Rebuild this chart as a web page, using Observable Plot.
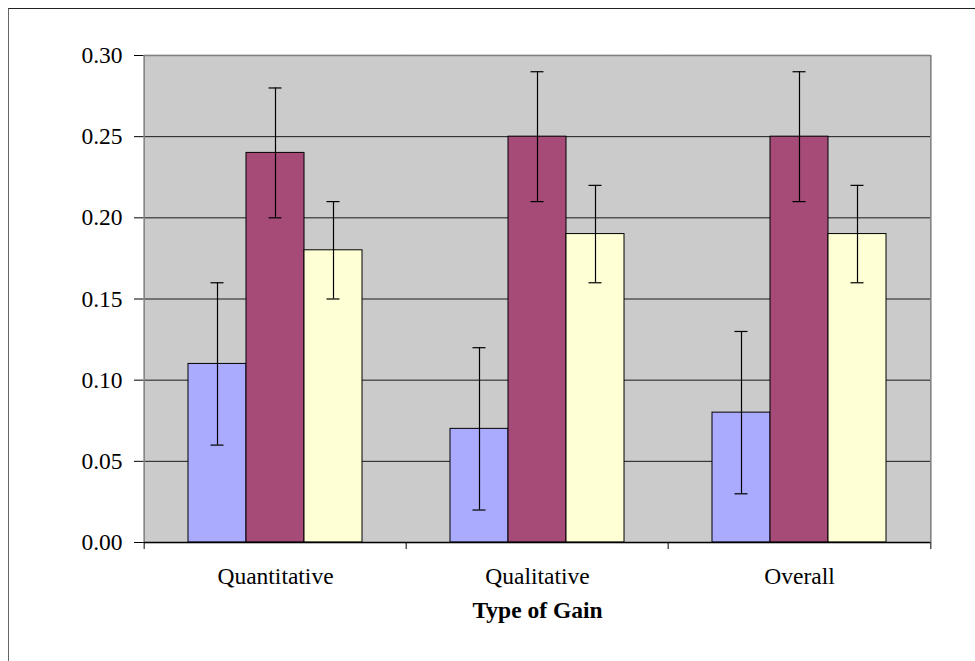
<!DOCTYPE html>
<html>
<head>
<meta charset="utf-8">
<script src="https://cdn.jsdelivr.net/npm/d3@7"></script>
<script src="https://cdn.jsdelivr.net/npm/@observablehq/plot@0.6"></script>
<style>
  body { margin: 0; background: #fff; }
  #wrap { position: relative; width: 975px; height: 661px; overflow: hidden; }
  #border { position: absolute; left: 8px; top: 8px; width: 2000px; height: 2000px;
            border-top: 1.5px solid #222; border-left: 1.5px solid #666; pointer-events: none; }
  #chart svg { display: block; }
</style>
</head>
<body>
<div id="wrap"><div id="chart"></div><div id="border"></div></div>
<script>
// ---- data ----
const categories = ["Quantitative", "Qualitative", "Overall"];
const series = ["Series 1", "Series 2", "Series 3"];
const series1 = [0.11, 0.07, 0.08];
const series2 = [0.24, 0.25, 0.25];
const series3 = [0.18, 0.19, 0.19];
const err1 = [0.05, 0.05, 0.05];
const err2 = [0.04, 0.04, 0.04];
const err3 = [0.03, 0.03, 0.03];
const yTicks = [0, 0.05, 0.10, 0.15, 0.20, 0.25, 0.30];
const xTitle = "Type of Gain";
const colors = ["#AAAAFF", "#A64A78", "#FFFFD5"];

const seriesValues = [series1, series2, series3];
const seriesErr = [err1, err2, err3];
const data = [];
categories.forEach((c, ci) => {
  series.forEach((s, si) => {
    const v = seriesValues[si][ci], e = seriesErr[si][ci];
    data.push({cat: c, series: s, value: v, lo: v - e, hi: v + e});
  });
});

// ---- layout ----
const W = 975, H = 661, ML = 143, MR = 44, MT = 55, MB = 119;
const facetW = (W - ML - MR) / categories.length;

const chart = Plot.plot({
  width: W, height: H,
  marginLeft: ML, marginRight: MR, marginTop: MT, marginBottom: MB,
  style: {fontFamily: "'Liberation Serif', 'Times New Roman', serif", fontSize: "23.5px", color: "#000", background: "transparent"},
  fx: {domain: categories, padding: 0, axis: "bottom", tickSize: 0, tickPadding: 25, label: null},
  x: {domain: series, paddingInner: 0, paddingOuter: 0.725, axis: null},
  y: {domain: [0, 0.30], ticks: yTicks, tickFormat: ".2f", tickSize: 10, tickPadding: 12, label: null},
  color: {domain: series, range: colors},
  marks: [
    Plot.frame({fill: "#CBCBCB", stroke: "#CBCBCB", strokeWidth: 1.5}),
    Plot.gridY(yTicks.slice(1, -1), {stroke: "#1a1a1a", strokeOpacity: 1, strokeWidth: 1}),
    Plot.ruleY([yTicks[yTicks.length - 1]], {stroke: "#808080", strokeWidth: 1.5}),
    Plot.barY(data, {fx: "cat", x: "series", y: "value", fill: "series", stroke: "#000", strokeWidth: 1, inset: 0}),
    Plot.ruleX(data, {fx: "cat", x: "series", y1: "lo", y2: "hi", stroke: "#000", strokeWidth: 1.2}),
    Plot.tickY(data, {fx: "cat", x: "series", y: "lo", stroke: "#000", strokeWidth: 1.2, insetLeft: 22.5, insetRight: 22.5}),
    Plot.tickY(data, {fx: "cat", x: "series", y: "hi", stroke: "#000", strokeWidth: 1.2, insetLeft: 22.5, insetRight: 22.5}),
    // plot-area left and right edges
    Plot.ruleX([categories[0]], {fx: d => d, x: null, dx: -facetW / 2, stroke: "#808080", strokeWidth: 1.5}),
    Plot.ruleX([categories[categories.length - 1]], {fx: d => d, x: null, dx: facetW / 2, stroke: "#808080", strokeWidth: 1.5}),
    // category boundary tick marks
    Plot.ruleX(categories, {fx: d => d, x: null, dx: -facetW / 2, y1: 0, y2: 0, insetBottom: -7, stroke: "#000"}),
    Plot.ruleX([categories[categories.length - 1]], {fx: d => d, x: null, dx: facetW / 2, y1: 0, y2: 0, insetBottom: -7, stroke: "#000"}),
    Plot.ruleY([0], {stroke: "#000", strokeWidth: 1.5}),
    // axis title
    Plot.text([xTitle], {fx: () => categories[1], text: d => d, frameAnchor: "bottom", dy: 75, fontWeight: "bold", fontSize: 23.5})
  ]
});
document.getElementById("chart").appendChild(chart);
</script>
</body>
</html>
